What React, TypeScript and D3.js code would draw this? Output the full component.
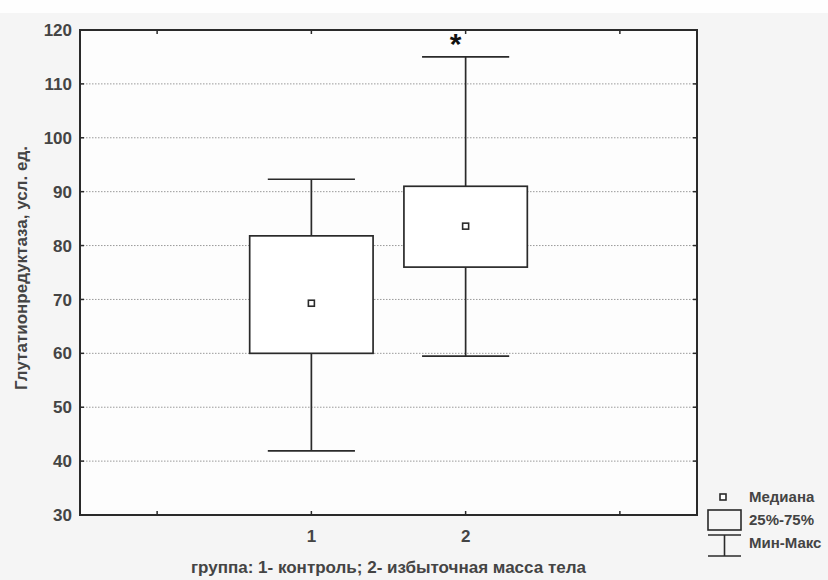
import React from "react";
import * as d3 from "d3";

const categories = [1, 2];
const mins = [41.9, 59.5];
const q1s = [60, 76];
const medians = [69.3, 83.6];
const q3s = [81.8, 91];
const maxs = [92.3, 115];
const yTicks = [30, 40, 50, 60, 70, 80, 90, 100, 110, 120];
const xTicks = [0, 1, 2, 3];
const yLabel = "Глутатионредуктаза, усл. ед.";
const xLabel = "группа: 1- контроль; 2- избыточная масса тела";
const legendLabels = ["Медиана", "25%-75%", "Мин-Макс"];

export default function App() {
  const W = 828, H = 580;
  const left = 80, right = 697, top = 30, bottom = 515;
  const x = d3.scaleLinear().domain([-0.5, 3.5]).range([left, right]);
  const y = d3.scaleLinear().domain([30, 120]).range([bottom, top]);
  const unit = x(1) - x(0);
  const boxW = 0.8 * unit;
  const capW = 0.565 * unit;
  const font = "'Liberation Sans', Arial, sans-serif";
  const txt = "#444";
  const stroke = "#2a2a2a";

  return (
    <svg width={W} height={H} style={{ position: "absolute", left: 0, top: 0, background: "#f5f5f5" }} fontFamily={font}>
      <rect x={0} y={0} width={W} height={13} fill="#fefefe" />
      <rect x={left} y={top} width={right - left} height={bottom - top} fill="#fdfdfd" />
      {yTicks.filter(t => t > 30 && t < 120).map(t => (
        <line key={"g" + t} x1={left} x2={right} y1={y(t)} y2={y(t)} stroke="#9a9a9a" strokeWidth={1} strokeDasharray="1.5,1.5" />
      ))}
      {yTicks.map(t => (
        <g key={"yt" + t}>
          <line x1={left} x2={left + 4} y1={y(t)} y2={y(t)} stroke={stroke} strokeWidth={1.5} />
          <line x1={right - 4} x2={right} y1={y(t)} y2={y(t)} stroke={stroke} strokeWidth={1.5} />
          <text x={72} y={y(t)} dy="0.36em" textAnchor="end" fontSize={17} fontWeight="bold" fill={txt}>{t}</text>
        </g>
      ))}
      {xTicks.map(t => (
        <g key={"xt" + t}>
          <line x1={x(t)} x2={x(t)} y1={bottom} y2={bottom - 4} stroke={stroke} strokeWidth={1.5} />
          <line x1={x(t)} x2={x(t)} y1={top} y2={top + 4} stroke={stroke} strokeWidth={1.5} />
          {categories.includes(t) && (
            <text x={x(t)} y={542} textAnchor="middle" fontSize={17} fontWeight="bold" fill={txt}>{t}</text>
          )}
        </g>
      ))}
      {categories.map((c, i) => {
        const cx = x(c);
        return (
          <g key={"b" + c} stroke={stroke} strokeWidth={1.7} fill="none">
            <line x1={cx} x2={cx} y1={y(maxs[i])} y2={y(q3s[i])} />
            <line x1={cx} x2={cx} y1={y(q1s[i])} y2={y(mins[i])} />
            <line x1={cx - capW / 2} x2={cx + capW / 2} y1={y(maxs[i])} y2={y(maxs[i])} />
            <line x1={cx - capW / 2} x2={cx + capW / 2} y1={y(mins[i])} y2={y(mins[i])} />
            <rect x={cx - boxW / 2} y={y(q3s[i])} width={boxW} height={y(q1s[i]) - y(q3s[i])} fill="#fff" />
            <rect x={cx - 3} y={y(medians[i]) - 3} width={6} height={6} fill="#fff" strokeWidth={1.6} />
          </g>
        );
      })}
      <text x={x(2) - 10} y={y(maxs[1]) - 3} textAnchor="middle" fontSize={30} fontWeight="bold" fill="#111">*</text>
      <rect x={left} y={top} width={right - left} height={bottom - top} fill="none" stroke={stroke} strokeWidth={2} />
      <text transform={`translate(27, 268) rotate(-90)`} textAnchor="middle" fontSize={17} fontWeight="bold" fill={txt}>{yLabel}</text>
      <text x={(left + right) / 2} y={573} textAnchor="middle" fontSize={17} fontWeight="bold" fill={txt}>{xLabel}</text>
      <g stroke={stroke} strokeWidth={1.6} fill="none">
        <rect x={720} y={494} width={6} height={6} fill="#fff" />
        <rect x={708} y={510} width={33} height={20} />
        <line x1={708} x2={741} y1={535} y2={535} />
        <line x1={724.5} x2={724.5} y1={535} y2={556} />
        <line x1={708} x2={741} y1={556} y2={556} />
      </g>
      {legendLabels.map((l, i) => (
        <text key={l} x={749} y={497 + i * 23} dy="0.36em" fontSize={15} fontWeight="bold" fill={txt}>{l}</text>
      ))}
    </svg>
  );
}
